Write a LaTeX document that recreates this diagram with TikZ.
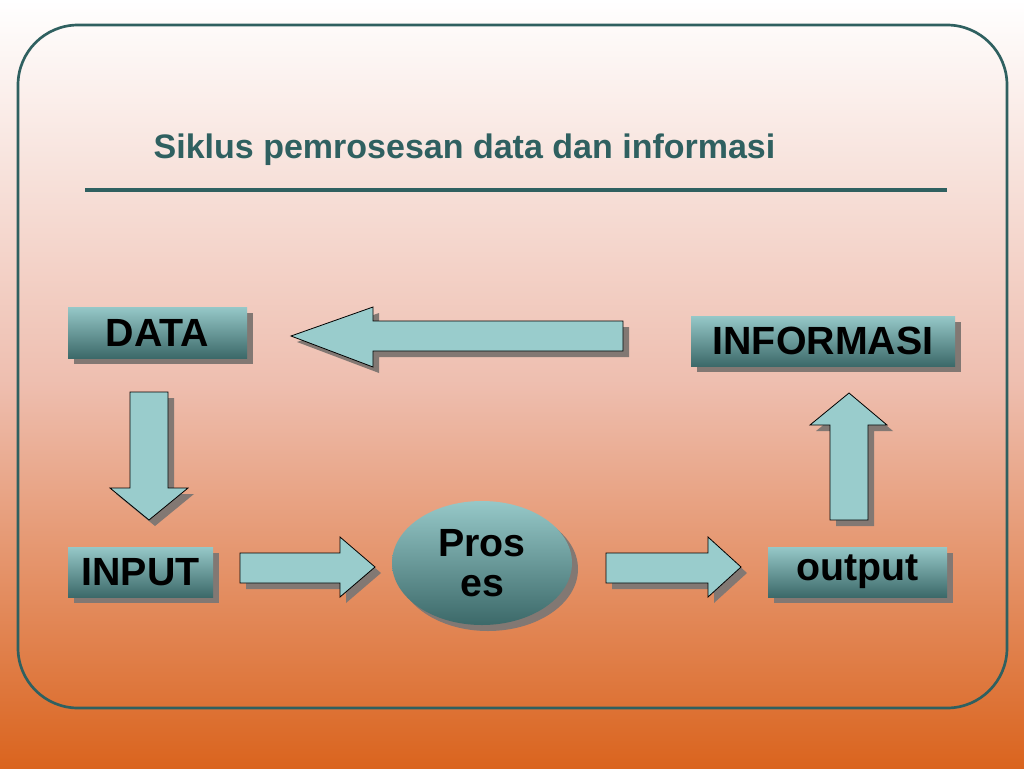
\documentclass[tikz,border=0pt]{standalone}
\usepackage{fontspec}
\setmainfont{Liberation Sans}
\usetikzlibrary{shapes.geometric}
\definecolor{teal1}{RGB}{47,96,96}
\definecolor{boxtop}{RGB}{150,200,200}
\definecolor{boxbot}{RGB}{60,105,105}
\definecolor{arrfill}{RGB}{153,204,204}
\definecolor{bgmid}{RGB}{238,190,175}
\definecolor{bgbot}{RGB}{218,100,30}
\definecolor{shad}{RGB}{130,120,115}
\tikzset{
 box/.style={draw=none,top color=boxtop,bottom color=boxbot,font=\bfseries\fontsize{29.5}{32}\selectfont,text=black,inner sep=0pt},
 arr/.style={fill=arrfill,draw=black,line width=0.6pt,line join=miter},
 arrsh/.style={fill=shad,draw=none},
}
\begin{document}
\begin{tikzpicture}[x=0.75pt,y=-0.75pt]
\useasboundingbox (0,0) rectangle (1024,768);
\shade[top color=white,bottom color=bgmid] (0,0) rectangle (1024,384);
\shade[top color=bgmid,bottom color=bgbot] (0,383.5) rectangle (1024,768);
\draw[teal1,line width=2pt,rounded corners=45pt] (18,25) rectangle (1007,708);
\node[anchor=west,text=teal1,font=\bfseries\fontsize{25.5}{30}\selectfont] (title) at (149,150) {Siklus pemrosesan data dan informasi};
\draw[teal1,line width=2.4pt] (85,190) -- (947,190);
% boxes
\fill[shad] (74,313) rectangle (253,364);
\node[box,minimum width=179*0.75pt,minimum height=51*0.75pt] (data) at (157.5,332.5) {DATA};
\fill[shad] (697,322) rectangle (961,372);
\node[box,minimum width=264*0.75pt,minimum height=50*0.75pt] (info) at (823,341) {INFORMASI};
\fill[shad] (74,553) rectangle (219,603);
\node[box,minimum width=145*0.75pt,minimum height=50*0.75pt] (input) at (140.5,572) {INPUT};
\fill[shad] (774,553) rectangle (953,603);
\node[box,minimum width=179*0.75pt,minimum height=50*0.75pt] (output) at (857.5,572) {output};
\fill[shad] (488,569) ellipse [x radius=90,y radius=62];
\node[ellipse,draw=none,top color=boxtop,bottom color=boxbot,minimum width=180*0.75pt,minimum height=124*0.75pt,inner sep=0pt,align=center,font=\bfseries\fontsize{29.5}{30}\selectfont] (proses) at (482,563) {Pros\\es};
% arrows
\foreach \s/\st in {6/arrsh,0/arr}{
 \begin{scope}[shift={(\s,\s)}]
 \draw[\st] (623,321) -- (373,321) -- (373,307) -- (291,336) -- (373,367) -- (373,351) -- (623,351) -- cycle;
 \draw[\st] (130,392) -- (168,392) -- (168,488) -- (188,488) -- (149,520) -- (110,488) -- (130,488) -- cycle;
 \draw[\st] (240,553) -- (340,553) -- (340,537) -- (375,567) -- (340,597) -- (340,583) -- (240,583) -- cycle;
 \draw[\st] (606,553) -- (708,553) -- (708,537) -- (741,567) -- (708,597) -- (708,583) -- (606,583) -- cycle;
 \draw[\st] (830,520) -- (868,520) -- (868,425) -- (887,425) -- (849,393) -- (810,425) -- (830,425) -- cycle;
 \end{scope}}
\end{tikzpicture}
\end{document}
